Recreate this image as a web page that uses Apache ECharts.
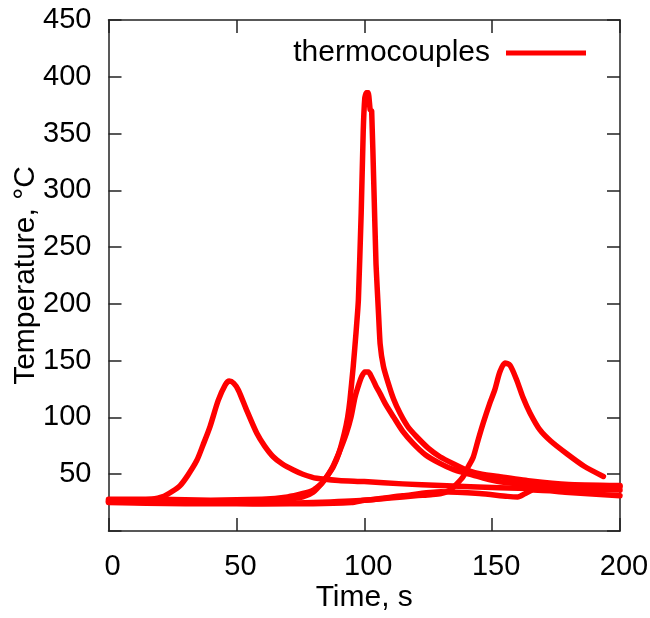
<!DOCTYPE html>
<html>
<head>
<meta charset="utf-8">
<script src="https://cdn.jsdelivr.net/npm/echarts@6/dist/echarts.min.js"></script>
<style>
html,body{margin:0;padding:0;background:#fff;}
#c{width:650px;height:618px;}
</style>
</head>
<body>
<div id="c"></div>
<script>
// ---- data ----
var seriesName = 'thermocouples';
var xTicks = [0, 50, 100, 150, 200];
var yTicks = [0, 50, 100, 150, 200, 250, 300, 350, 400, 450];

var timeA = [0, 10, 17, 21, 25, 28, 31, 34.5, 37, 39.7, 42.9, 45.6, 47.2, 49, 50.8, 54, 58, 61, 64.4, 68, 72.3, 76, 81.4, 90, 100, 115, 130, 153, 175, 200];
var tempA = [27, 27, 28, 30, 35, 40, 49, 62, 76, 92, 115, 128.5, 132, 130, 124, 106.5, 86, 75, 65.4, 59, 53.7, 50, 46.4, 44.5, 43.5, 41.5, 40, 38, 37, 36];

var timeB = [0, 20, 40, 60, 70, 76, 80, 83.4, 86, 88, 90.5, 93, 94.8, 96.4, 98, 99, 100.2, 101.6, 103, 104.5, 106.2, 108.5, 111.4, 115, 119.2, 124, 129.6, 135, 140, 146, 153, 165, 180, 200];
var tempB = [26, 26, 26, 27, 28, 30, 34, 42, 50, 58, 71, 86, 100, 118, 130, 136, 140, 140, 135, 128, 121, 111, 100.6, 88, 77, 67, 59.6, 54, 50.8, 47, 43.4, 41, 39.5, 39];

var timeC = [0, 20, 40, 60, 70, 76, 80, 83.4, 86, 87.9, 90, 92.2, 93.5, 94.4, 95.7, 96.8, 97.7, 98.8, 99.6, 100.2, 100.8, 101.6, 102.3, 102.9, 103.8, 104.6, 105.5, 106.2, 107.5, 109.4, 111.5, 114, 117, 120.5, 125, 129.6, 135, 140, 146, 153, 165, 180, 200];
var tempC = [28, 28, 27, 28, 30, 33, 36, 42, 50, 56.6, 68, 86, 100, 115, 145, 175, 203, 280, 352, 381, 386, 386, 371, 370, 300, 235, 195, 165, 145, 130, 116, 103.6, 92, 83, 73, 65.4, 59, 53.7, 50, 47.8, 44, 41, 40];

var timeD = [0, 20, 40, 60, 80, 95, 100, 110, 120, 126, 130, 133.5, 136, 138.7, 140.5, 142.6, 144.5, 146.5, 149, 151, 153, 155, 157, 159.6, 162, 164.8, 168.7, 173, 179.2, 186, 193.5];
var tempD = [26, 25, 25, 24, 24, 25, 27, 29, 31, 32, 33, 36, 41, 48, 56, 65, 80, 95, 112, 124, 140, 148, 146, 133, 118, 104, 89, 79, 68, 57, 48];

var timeE = [0, 30, 60, 80, 100, 115, 130, 145, 156, 160, 163, 166, 180, 200];
var tempE = [25, 24, 24, 25, 27, 31, 34.5, 33, 30.5, 30, 33, 36, 34, 31];

// ---- build ----
function pairs(t, v) { return t.map(function (x, i) { return [x, v[i]]; }); }
var curves = [pairs(timeA, tempA), pairs(timeB, tempB), pairs(timeC, tempC), pairs(timeD, tempD), pairs(timeE, tempE)];

var FONT = '"Liberation Sans", Arial, sans-serif';
var RED = '#ff0000';
var axisLineStyle = { color: '#222', width: 1.5 };

var series = curves.map(function (d, i) {
  return {
    name: seriesName,
    type: 'line',
    data: d,
    showSymbol: false,
    symbol: 'none',
    smooth: i === 2 ? 0.12 : 0.25,
    lineStyle: { color: RED, width: 5.5, join: 'round', cap: 'round' },
    itemStyle: { color: RED },
    animation: false
  };
});

var chart = echarts.init(document.getElementById('c'), null, { renderer: 'canvas' });
chart.setOption({
  backgroundColor: '#fff',
  animation: false,
  textStyle: { fontFamily: FONT },
  grid: { left: 108.5, right: 30, top: 20, bottom: 87, containLabel: false, outerBoundsMode: 'none' },
  legend: {
    data: [{ name: seriesName, icon: 'rect' }],
    right: 64,
    top: 38,
    padding: 0,
    align: 'right',
    itemWidth: 80,
    itemHeight: 5,
    textStyle: { fontSize: 30, color: '#000', fontFamily: FONT, padding: [0, 11, 0, 0] },
    selectedMode: false
  },
  xAxis: [{
    type: 'value', position: 'bottom',
    min: xTicks[0], max: xTicks[xTicks.length - 1], interval: 50,
    name: 'Time, s', nameLocation: 'middle', nameGap: 52, nameMoveOverlap: false,
    nameTextStyle: { fontSize: 30, color: '#000', fontFamily: FONT },
    axisLine: { show: true, onZero: false, lineStyle: axisLineStyle },
    axisTick: { show: true, inside: true, length: 13, lineStyle: axisLineStyle },
    axisLabel: { fontSize: 29, color: '#000', margin: 21, fontFamily: FONT, padding: [0, 0, 0, 8] },
    splitLine: { show: false }
  }, {
    type: 'value', position: 'top',
    min: xTicks[0], max: xTicks[xTicks.length - 1], interval: 50,
    axisLine: { show: true, onZero: false, lineStyle: axisLineStyle },
    axisTick: { show: true, inside: true, length: 13, lineStyle: axisLineStyle },
    axisLabel: { show: false },
    splitLine: { show: false }
  }],
  yAxis: [{
    type: 'value', position: 'left',
    min: yTicks[0], max: yTicks[yTicks.length - 1], interval: 50,
    name: 'Temperature, °C', nameLocation: 'middle', nameGap: 68, nameMoveOverlap: false,
    nameTextStyle: { fontSize: 30, color: '#000', fontFamily: FONT },
    axisLine: { show: true, onZero: false, lineStyle: axisLineStyle },
    axisTick: { show: true, inside: true, length: 13, lineStyle: axisLineStyle },
    axisLabel: { fontSize: 29, color: '#000', margin: 17, fontFamily: FONT,
      formatter: function (v) { return v === 0 ? '' : String(v); } },
    splitLine: { show: false }
  }, {
    type: 'value', position: 'right',
    min: yTicks[0], max: yTicks[yTicks.length - 1], interval: 50,
    axisLine: { show: true, onZero: false, lineStyle: axisLineStyle },
    axisTick: { show: true, inside: true, length: 13, lineStyle: axisLineStyle },
    axisLabel: { show: false },
    splitLine: { show: false }
  }],
  series: series
});
</script>
</body>
</html>
